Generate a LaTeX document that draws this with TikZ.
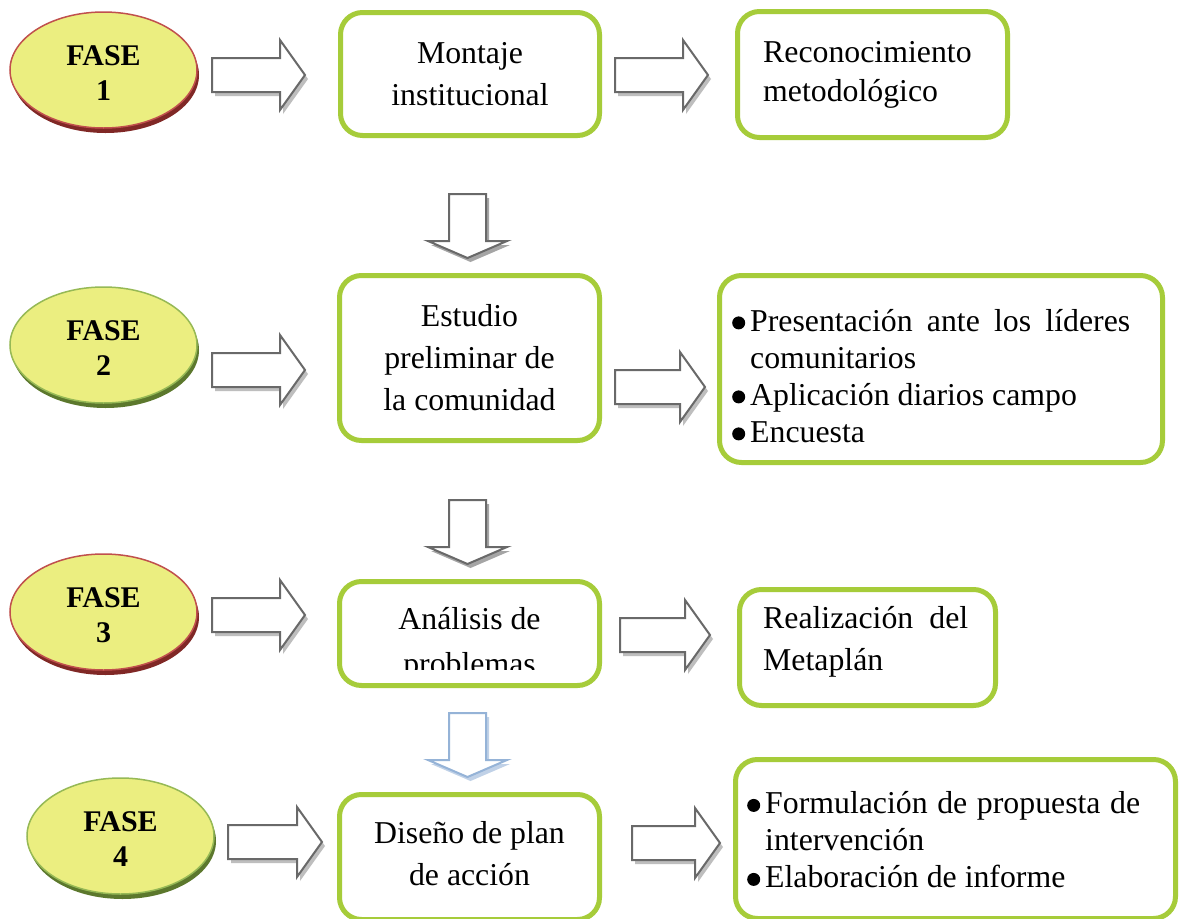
\documentclass[tikz,border=0pt]{standalone}
\usepackage{fontspec}
\setmainfont{Liberation Serif}
\usetikzlibrary{shadows,shapes.geometric}
\definecolor{boxgreen}{RGB}{166,204,58}
\definecolor{ellfill}{RGB}{235,238,128}
\definecolor{redborder}{RGB}{192,80,77}
\definecolor{redshadow}{RGB}{128,40,38}
\definecolor{greenborder}{RGB}{150,185,85}
\definecolor{greenshadow}{RGB}{92,120,45}
\definecolor{arrline}{RGB}{105,105,105}
\definecolor{arrshadow}{RGB}{190,190,190}
\definecolor{blueline}{RGB}{149,179,215}
\newcommand{\bdot}{\tikz[baseline=-8.5pt]\fill[black] (0pt,0pt) circle[radius=6.5pt];}
\newcommand{\bitem}[1]{\noindent\hangindent=18pt\hangafter=1\makebox[18pt][l]{\bdot}#1\par}
\tikzset{
  pics/rarr/.style={code={
    \fill[arrshadow] (3,-13) -- (#1-22,-13) -- (#1-22,-31) -- (#1+3,4) -- (#1-22,39) -- (#1-22,21) -- (3,21) -- cycle;
    \draw[arrline, fill=white, line width=2pt, line join=miter] (0,-17) -- (#1-25,-17) -- (#1-25,-35) -- (#1,0) -- (#1-25,35) -- (#1-25,17) -- (0,17) -- cycle;
  }},
  pics/darr/.style={code={
    \fill[#1!60] (-15.5,4) -- (21.5,4) -- (21.5,51) -- (42.5,51) -- (3,68) -- (-36.5,51) -- (-15.5,51) -- cycle;
    \draw[#1, fill=white, line width=2pt, line join=miter] (-18.5,0) -- (18.5,0) -- (18.5,47) -- (39.5,47) -- (0,64) -- (-39.5,47) -- (-18.5,47) -- cycle;
  }},
  box/.style={draw=boxgreen, line width=5pt, rounded corners=22pt, fill=white, inner sep=0pt},
  txt/.style={font=\fontsize{31.8}{42}\selectfont, inner sep=0pt, align=center},
  fase/.style={ellipse, minimum width=187pt, minimum height=116pt, fill=ellfill, line width=1.5pt, inner sep=0pt},
  faseR/.style={fase, draw=redborder, drop shadow={shadow xshift=2pt, shadow yshift=-5pt, fill=redshadow, opacity=1}},
  faseG/.style={fase, draw=greenborder, drop shadow={shadow xshift=2pt, shadow yshift=-5pt, fill=greenshadow, opacity=1}},
  fasetxt/.style={font=\bfseries\fontsize{30}{35}\selectfont, align=center, inner sep=0pt},
}
\begin{document}
\begin{tikzpicture}[x=1pt,y=-1pt]
\useasboundingbox (0,0) rectangle (1179,919);
\clip (0,0) rectangle (1179,919);
\fill[white] (0,0) rectangle (1179,919);

% phases
\node[faseR] (f1) at (103.5,70) {};
\node[fasetxt] (f1t) at ([yshift=-3pt]f1.center) {FASE\\1};
\node[faseG] (f2) at (103.5,345) {};
\node[fasetxt] (f2t) at ([yshift=-3pt]f2.center) {FASE\\2};
\node[faseR] (f3) at (103.5,612) {};
\node[fasetxt] (f3t) at ([yshift=-3pt]f3.center) {FASE\\3};
\node[faseG] (f4) at (120.5,836) {};
\node[fasetxt] (f4t) at ([yshift=-3pt]f4.center) {FASE\\4};

% row 1
\node[box, txt, minimum width=259pt, minimum height=123pt] (montaje) at (470,74) {Montaje\\institucional};
\node[box, minimum width=270pt, minimum height=126pt] (recon) at (872.5,74.5) {};
\node[txt, align=left, anchor=west, font=\fontsize{31.8}{39}\selectfont] (recontxt) at (763,75) {Reconocimiento\\metodológico};

% row 2
\node[box, txt, minimum width=260pt, minimum height=165pt] (estudio) at (469.5,358) {Estudio\\preliminar de\\la comunidad};
\node[box, minimum width=443pt, minimum height=187pt] (lista1) at (941,369) {};
\node[txt, anchor=west] (lista1txt) at (732,376) {\begin{minipage}{398pt}\fontsize{31.8}{37}\selectfont\hyphenpenalty=10000
\bitem{Presentación ante los líderes comunitarios}
\bitem{Aplicación diarios campo}
\bitem{Encuesta}
\end{minipage}};

% row 3
\node[box, minimum width=260pt, minimum height=104pt] (analisis) at (469.5,633.5) {};
\begin{scope}
\clip (340,582) rectangle (600,669);
\node[txt, font=\fontsize{31.8}{45}\selectfont] (analisistxt) at (469.5,644) {Análisis de\\problemas};
\end{scope}
\node[box, minimum width=256pt, minimum height=116pt] (realiz) at (867.5,647.5) {};
\node[txt, anchor=west] (realiztxt) at (763,642) {\parbox{205pt}{\fontsize{31.8}{42}\selectfont Realización del Metaplán}};

% row 4
\node[box, minimum width=260pt, minimum height=125pt] (diseno) at (469.5,857) {};
\node[txt] (disenotxt) at (469.5,854) {Diseño de plan\\de acción};
\node[box, minimum width=440pt, minimum height=159pt] (lista2) at (955.5,839) {};
\node[txt, anchor=west] (lista2txt) at (747,840) {\begin{minipage}{393pt}\fontsize{31.8}{37}\selectfont\hyphenpenalty=10000
\bitem{Formulación de propuesta de intervención}
\bitem{Elaboración de informe}
\end{minipage}};

% block arrows
\pic (a1) at (212,75) {rarr=93};
\pic (a2) at (615,75) {rarr=93};
\pic (a3) at (212,370) {rarr=93};
\pic (a4) at (615,387) {rarr=90};
\pic (a5) at (212,615) {rarr=93};
\pic (a6) at (620,635) {rarr=90};
\pic (a7) at (228,842) {rarr=94};
\pic (a8) at (632,843) {rarr=88};
\pic (d1) at (467.5,194) {darr=arrline};
\pic (d2) at (467.5,500) {darr=arrline};
\pic (d3) at (467.5,713) {darr=blueline};
\end{tikzpicture}
\end{document}
